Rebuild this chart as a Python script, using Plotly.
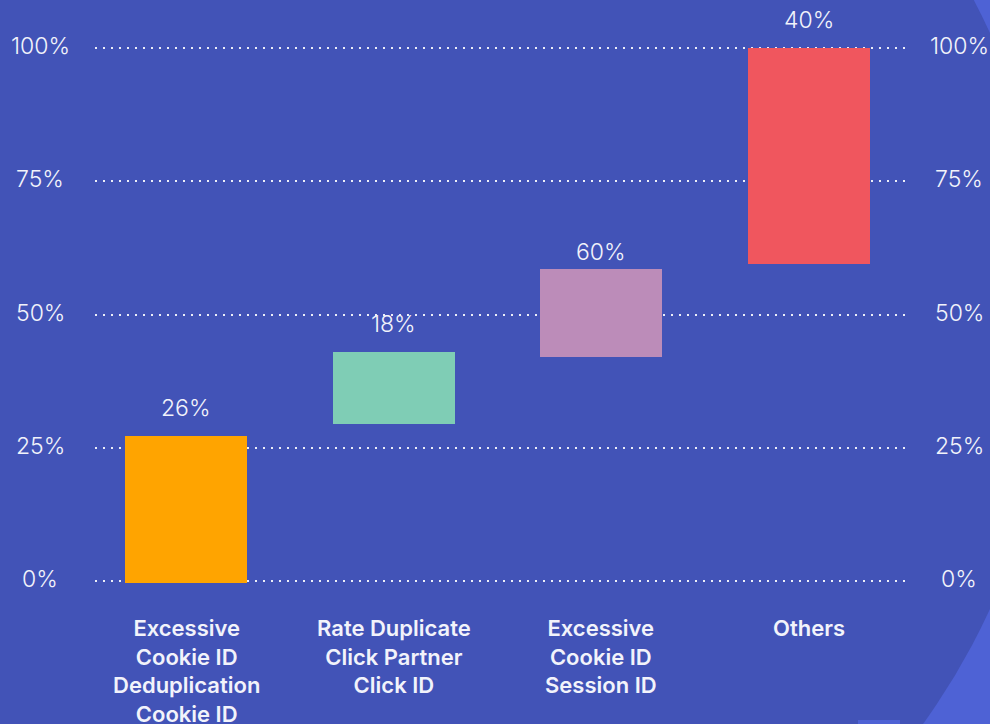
import plotly.graph_objects as go

# ---- data ----
categories = [
    "Excessive<br>Cookie ID<br>Deduplication<br>Cookie ID",
    "Rate Duplicate<br>Click Partner<br>Click ID",
    "Excessive<br>Cookie ID<br>Session ID",
    "Others",
]
bar_bases = [-0.4, 29.5, 42.0, 59.5]
bar_tops = [27.2, 43.0, 58.5, 100.0]
value_labels = ["26%", "18%", "60%", "40%"]
tick_values = [0, 25, 50, 75, 100]
tick_labels = ["0%", "25%", "50%", "75%", "100%"]

# ---- style ----
bar_colors = ["#FFA400", "#7FCDB5", "#BC8CB9", "#F0565E"]
label_shift = [12, 12, 1, 12]
BG_DARK = "#4253B7"
BG_LIGHT = "#4E62D5"
TXT = "#F2F3FB"
FONT = "Inter"

W, H = 990, 724
ML, MR, MT, MB = 95, 85, 43, 138
PW, PH = W - ML - MR, H - MT - MB

fig = go.Figure()
fig.add_trace(go.Bar(
    x=list(range(len(categories))),
    y=[t - b for t, b in zip(bar_tops, bar_bases)],
    base=bar_bases,
    width=0.588,
    marker=dict(color=bar_colors, line=dict(width=0)),
    hoverinfo="skip",
))

def px_to_paper_x(px):
    return (px - ML) / PW

def px_to_paper_y(py):
    return (H - MB - py) / PH

shapes = []
cx, cy, r = 363, 321, 690
shapes.append(dict(type="circle", xref="paper", yref="paper", layer="below",
                   x0=px_to_paper_x(cx - r), x1=px_to_paper_x(cx + r),
                   y0=px_to_paper_y(cy + r), y1=px_to_paper_y(cy - r),
                   fillcolor=BG_DARK, line=dict(width=0)))
shapes.append(dict(type="rect", xref="paper", yref="paper", layer="below",
                   x0=px_to_paper_x(858), x1=px_to_paper_x(900),
                   y0=px_to_paper_y(724), y1=px_to_paper_y(720),
                   fillcolor=BG_LIGHT, line=dict(width=0)))

num_font = dict(family=FONT, size=23, color=TXT, weight=300)
annotations = []
for v, lab in zip(tick_values, tick_labels):
    for xp in (40, 959):
        annotations.append(dict(x=px_to_paper_x(xp), xref="paper", y=v, yref="y",
                                text=lab, showarrow=False, xanchor="center",
                                yanchor="middle", yshift=2, font=num_font))
for i, (t, lab) in enumerate(zip(bar_tops, value_labels)):
    annotations.append(dict(x=i, xref="x", y=t, yref="y", text=lab, showarrow=False,
                            xanchor="center", yanchor="bottom", yshift=label_shift[i],
                            font=num_font))
for i, cat in enumerate(categories):
    annotations.append(dict(x=i, xref="x", y=0, yref="paper", text=cat, showarrow=False,
                            xanchor="center", yanchor="top", yshift=-27,
                            font=dict(family=FONT, size=22, color=TXT, weight=600)))

fig.update_layout(
    width=W, height=H,
    margin=dict(l=ML, r=MR, t=MT, b=MB, pad=0),
    paper_bgcolor=BG_LIGHT,
    plot_bgcolor="rgba(0,0,0,0)",
    showlegend=False,
    shapes=shapes,
    annotations=annotations,
    xaxis=dict(range=[-0.441, 3.465], showgrid=False, zeroline=False,
               showticklabels=False, ticks="", showline=False, fixedrange=True),
    yaxis=dict(range=[-1, 101], tickvals=tick_values, showticklabels=False,
               showgrid=True, gridcolor="rgba(255,255,255,0.9)", gridwidth=2,
               griddash="2px,6px", zeroline=False, showline=False, ticks="",
               fixedrange=True),
    bargap=0,
)

fig.write_html(
    "out.html",
    config={"displayModeBar": False},
    post_script="document.body.style.margin='0';document.body.style.overflow='hidden';",
)
